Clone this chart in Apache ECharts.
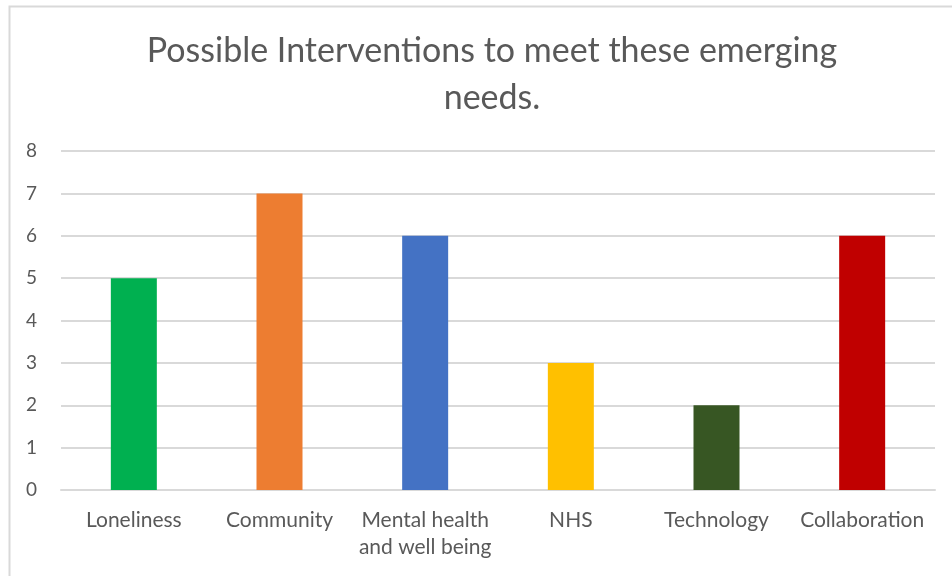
<!DOCTYPE html>
<html>
<head>
<meta charset="utf-8">
<script src="https://cdn.jsdelivr.net/npm/echarts@6/dist/echarts.min.js"></script>
<style>
  html, body { margin: 0; padding: 0; background: #ffffff; }
  #chart { width: 952px; height: 576px; }
</style>
</head>
<body>
<div id="chart"></div>
<script>
// Categories, counts and per-bar colours
const categories = ['Loneliness', 'Community', 'Mental health\nand well being', 'NHS', 'Technology', 'Collaboration'];
const counts = [5, 7, 6, 3, 2, 6];
const barColors = ['#00b050', '#ed7d31', '#4472c4', '#ffc000', '#375623', '#c00000'];
const yTicks = { min: 0, max: 8, interval: 1 };

const chart = echarts.init(document.getElementById('chart'), null, { renderer: 'canvas' });

const textColor = '#595959';
const fontFamily = 'Lato, "Open Sans", "Liberation Sans", sans-serif';

chart.setOption({
  animation: false,
  backgroundColor: '#ffffff',
  title: {
    text: 'Possible Interventions to meet these emerging\nneeds.',
    left: 487,
    top: 23,
    textAlign: 'center',
    textStyle: {
      color: textColor,
      fontFamily: fontFamily,
      fontWeight: 'normal',
      fontSize: 34,
      lineHeight: 47
    }
  },
  graphic: [{
    type: 'rect',
    shape: { x: 9.5, y: 6.5, width: 1000, height: 700 },
    style: { fill: 'none', stroke: '#d9d9d9', lineWidth: 2 },
    silent: true
  }],
  grid: { left: 61, right: 17, top: 151, bottom: 86 },
  xAxis: {
    type: 'category',
    data: categories,
    axisLine: { show: true, lineStyle: { color: '#d9d9d9', width: 2 } },
    axisTick: { show: false },
    axisLabel: {
      color: textColor,
      fontFamily: fontFamily,
      fontSize: 21,
      lineHeight: 27,
      margin: 17,
      interval: 0
    }
  },
  yAxis: {
    type: 'value',
    min: yTicks.min,
    max: yTicks.max,
    interval: yTicks.interval,
    axisLine: { show: false },
    axisTick: { show: false },
    splitLine: { lineStyle: { color: '#d9d9d9', width: 2 } },
    axisLabel: {
      color: textColor,
      fontFamily: fontFamily,
      fontSize: 19,
      margin: 24
    }
  },
  series: [{
    type: 'bar',
    data: counts.map((v, i) => ({ value: v, itemStyle: { color: barColors[i] } })),
    barWidth: 46
  }]
});
</script>
</body>
</html>
